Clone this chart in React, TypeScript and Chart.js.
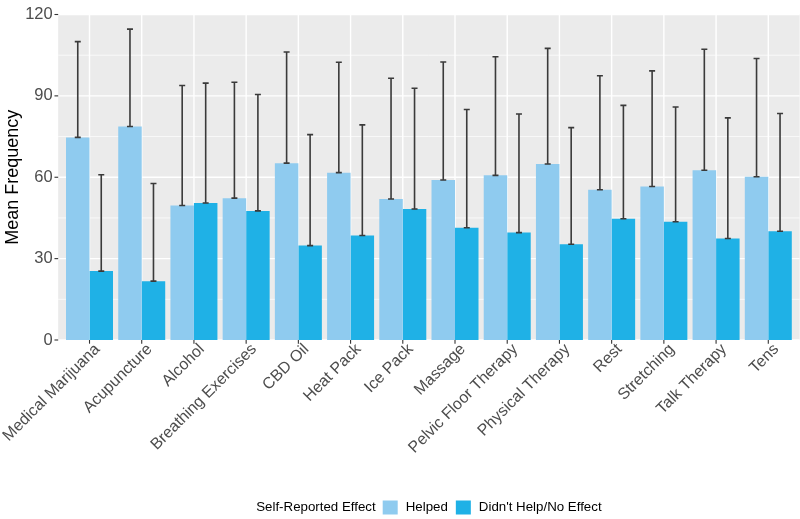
import React, { useEffect, useRef } from "react";
import { Chart, registerables } from "chart.js";

Chart.register(...registerables);

const categories = [
  "Medical Marijuana",
  "Acupuncture",
  "Alcohol",
  "Breathing Exercises",
  "CBD Oil",
  "Heat Pack",
  "Ice Pack",
  "Massage",
  "Pelvic Floor Therapy",
  "Physical Therapy",
  "Rest",
  "Stretching",
  "Talk Therapy",
  "Tens",
];

const helpedMeans = [74.7, 78.7, 49.6, 52.3, 65.2, 61.7, 52.0, 59.0, 60.7, 64.9, 55.4, 56.6, 62.6, 60.2];
const helpedUpper = [110.0, 114.6, 93.8, 95.0, 106.2, 102.4, 96.5, 102.5, 104.4, 107.5, 97.4, 99.2, 107.2, 103.8];
const noEffectMeans = [25.4, 21.7, 50.5, 47.6, 34.8, 38.5, 48.3, 41.4, 39.6, 35.3, 44.7, 43.6, 37.4, 40.1];
const noEffectUpper = [60.9, 57.7, 94.7, 90.5, 75.7, 79.3, 92.8, 85.0, 83.3, 78.3, 86.5, 85.9, 81.9, 83.5];

const yTicks = [0, 30, 60, 90, 120];
const yMinorTicks = [15, 45, 75, 105];
const seriesLabels = ["Helped", "Didn't Help/No Effect"];
const legendTitle = "Self-Reported Effect";
const yTitle = "Mean Frequency";

const seriesColors = ["#8FCBEF", "#1FB1E6"];
const FONT = "'Liberation Sans', Arial, Helvetica, sans-serif";

function panelBounds(chart: any) {
  const x = chart.scales.x;
  const step = x.getPixelForValue(1) - x.getPixelForValue(0);
  const left = x.getPixelForValue(0) - 0.6 * step;
  const right = x.getPixelForValue(categories.length - 1) + 0.6 * step;
  return { left, right };
}

const panelPlugin = {
  id: "ggPanel",
  beforeDraw(chart: any) {
    const { ctx, chartArea, scales } = chart;
    const y = scales.y;
    const x = scales.x;
    const { left, right } = panelBounds(chart);
    ctx.save();
    ctx.fillStyle = "#EBEBEB";
    ctx.fillRect(left, chartArea.top, right - left, chartArea.bottom - chartArea.top);
    ctx.strokeStyle = "#FFFFFF";
    ctx.lineWidth = 0.7;
    yMinorTicks.forEach((v) => {
      const py = y.getPixelForValue(v);
      ctx.beginPath();
      ctx.moveTo(left, py);
      ctx.lineTo(right, py);
      ctx.stroke();
    });
    ctx.lineWidth = 1.4;
    yTicks.forEach((v) => {
      const py = y.getPixelForValue(v);
      ctx.beginPath();
      ctx.moveTo(left, py);
      ctx.lineTo(right, py);
      ctx.stroke();
    });
    categories.forEach((_, i) => {
      const px = x.getPixelForValue(i);
      ctx.beginPath();
      ctx.moveTo(px, chartArea.top);
      ctx.lineTo(px, chartArea.bottom);
      ctx.stroke();
    });
    // axis tick marks
    ctx.strokeStyle = "#333333";
    ctx.lineWidth = 1.1;
    yTicks.forEach((v) => {
      const py = y.getPixelForValue(v);
      ctx.beginPath();
      ctx.moveTo(left - 3.7, py);
      ctx.lineTo(left, py);
      ctx.stroke();
    });
    categories.forEach((_, i) => {
      const px = x.getPixelForValue(i);
      ctx.beginPath();
      ctx.moveTo(px, chartArea.bottom);
      ctx.lineTo(px, chartArea.bottom + 3.7);
      ctx.stroke();
    });
    ctx.restore();
  },
};

const errorBarPlugin = {
  id: "errorBars",
  afterDatasetsDraw(chart: any) {
    const { ctx, scales } = chart;
    const y = scales.y;
    const uppers = [helpedUpper, noEffectUpper];
    const means = [helpedMeans, noEffectMeans];
    ctx.save();
    ctx.strokeStyle = "#3A3A3A";
    ctx.lineWidth = 1.6;
    chart.data.datasets.forEach((_: any, di: number) => {
      const meta = chart.getDatasetMeta(di);
      meta.data.forEach((bar: any, i: number) => {
        const bx = bar.x;
        const yTop = y.getPixelForValue(uppers[di][i]);
        const yBot = y.getPixelForValue(means[di][i]);
        const hw = 3;
        ctx.beginPath();
        ctx.moveTo(bx, yBot);
        ctx.lineTo(bx, yTop);
        ctx.moveTo(bx - hw, yTop);
        ctx.lineTo(bx + hw, yTop);
        ctx.moveTo(bx - hw, yBot);
        ctx.lineTo(bx + hw, yBot);
        ctx.stroke();
      });
    });
    ctx.restore();
  },
};

const legendPlugin = {
  id: "ggLegend",
  afterDraw(chart: any) {
    const { ctx } = chart;
    const { left, right } = panelBounds(chart);
    const cy = 507.5;
    const keyW = 15;
    const keyH = 14;
    ctx.save();
    ctx.font = `13.3px ${FONT}`;
    ctx.textBaseline = "middle";
    ctx.textAlign = "left";
    const titleW = ctx.measureText(legendTitle).width;
    const labelW = seriesLabels.map((s) => ctx.measureText(s).width);
    const gapTitle = 7;
    const gapKeyText = 8;
    const gapItems = 8;
    const total =
      titleW + gapTitle + keyW + gapKeyText + labelW[0] + gapItems + keyW + gapKeyText + labelW[1];
    let cx = (left + right) / 2 - total / 2;
    ctx.fillStyle = "#000000";
    ctx.fillText(legendTitle, cx, cy);
    cx += titleW + gapTitle;
    seriesLabels.forEach((s, i) => {
      ctx.fillStyle = seriesColors[i];
      ctx.fillRect(cx, cy - keyH / 2, keyW, keyH);
      cx += keyW + gapKeyText;
      ctx.fillStyle = "#000000";
      ctx.fillText(s, cx, cy);
      cx += labelW[i] + gapItems;
    });
    ctx.restore();
  },
};

export default function App() {
  const canvasRef = useRef<HTMLCanvasElement | null>(null);

  useEffect(() => {
    document.body.style.margin = "0";
    const canvas = canvasRef.current;
    if (!canvas) return;
    const chart = new Chart(canvas, {
      type: "bar",
      data: {
        labels: categories,
        datasets: [
          {
            label: seriesLabels[0],
            data: helpedMeans,
            backgroundColor: seriesColors[0],
            borderWidth: 0,
            categoryPercentage: 0.9,
            barPercentage: 1.0,
          },
          {
            label: seriesLabels[1],
            data: noEffectMeans,
            backgroundColor: seriesColors[1],
            borderWidth: 0,
            categoryPercentage: 0.9,
            barPercentage: 1.0,
          },
        ],
      },
      options: {
        responsive: false,
        animation: false,
        devicePixelRatio: 1,
        layout: { padding: { left: 0, right: 5.6, top: 14.5, bottom: 0 } },
        plugins: {
          legend: { display: false },
          tooltip: { enabled: false },
        },
        scales: {
          x: {
            grid: { display: false, drawTicks: false },
            border: { display: false },
            ticks: {
              autoSkip: false,
              minRotation: 45,
              maxRotation: 45,
              padding: 0,
              labelOffset: 8,
              color: "#4D4D4D",
              font: { family: FONT, size: 16 },
            },
            afterFit(scale: any) {
              scale.height = 179;
              scale.paddingLeft = 0;
              scale.paddingRight = 0;
            },
          },
          y: {
            min: 0,
            max: 120,
            grid: { display: false, drawTicks: false },
            border: { display: false },
            ticks: {
              stepSize: 30,
              padding: 10.7,
              color: "#4D4D4D",
              font: { family: FONT, size: 16.5 },
            },
            title: {
              display: true,
              text: yTitle,
              color: "#000000",
              font: { family: FONT, size: 18, lineHeight: 1.2 },
              padding: { top: 2, bottom: 0 },
            },
            afterFit(scale: any) {
              scale.width = 63.4;
              scale.paddingTop = 0;
              scale.paddingBottom = 0;
            },
          },
        },
      },
      plugins: [panelPlugin, errorBarPlugin, legendPlugin],
    });
    return () => chart.destroy();
  }, []);

  return (
    <div style={{ width: 800, height: 519 }}>
      <canvas ref={canvasRef} width={800} height={519} style={{ display: "block" }} />
    </div>
  );
}
